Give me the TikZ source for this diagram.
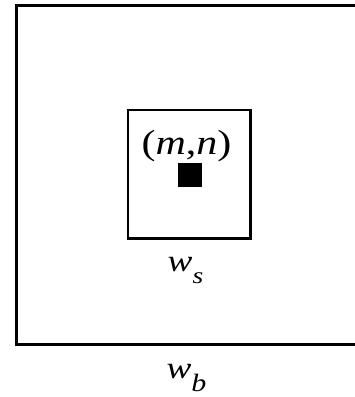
\documentclass[tikz,border=0pt]{standalone}
\usepackage{fontspec}
\setmainfont{Liberation Serif}
\usepackage{graphicx}
\newcommand{\hs}[1]{\scalebox{1.2}[1]{#1}}
\begin{document}
\begin{tikzpicture}[x=1pt,y=-1pt,
  lbl/.style={inner sep=0pt, outer sep=0pt, anchor=base},
  boxline/.style={draw, line width=2.5pt, inner sep=0pt},
  pixel/.style={fill=black, inner sep=0pt, minimum size=24pt}]
\useasboundingbox (0,0) rectangle (355,397);
% outer window (right side beyond the picture)
\coordinate (otr) at (365,5.5);
\coordinate (otl) at (16.5,5.5);
\coordinate (obl) at (16.5,344.5);
\coordinate (obr) at (365,344.5);
\draw[line width=3.2pt] (otr) -- (otl) -- (obl) -- (obr);
% inner window
\node[boxline, minimum width=122.5pt, minimum height=128.7pt] (ws) at (189.25,174.35) {};
% centre pixel
\node[pixel] (px) at (190,175) {};
% labels
\node[lbl] (mn) at (186.5,154) {\hs{\fontsize{35}{40}\selectfont(\textit{m},\textit{n})}};
\node[lbl] (wsl) at (185.5,271) {\hs{\fontsize{31}{36}\selectfont\textit{w}\raisebox{-12pt}{\fontsize{23}{26}\selectfont\textit{s}}}};
\node[lbl] (wbl) at (186.5,378) {\hs{\fontsize{31}{36}\selectfont\textit{w}\raisebox{-13pt}{\fontsize{25}{28}\selectfont\textit{b}}}};
\end{tikzpicture}
\end{document}
